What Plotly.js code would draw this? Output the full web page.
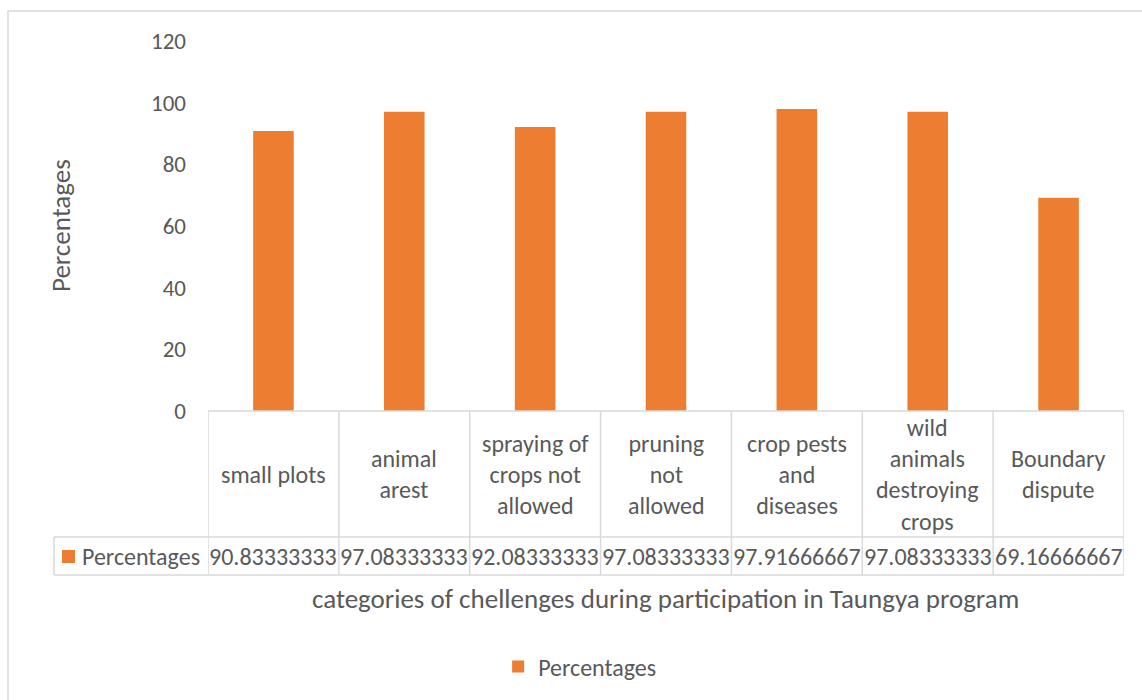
<!DOCTYPE html>
<html>
<head>
<meta charset="utf-8">
<script src="https://cdn.plot.ly/plotly-3.0.1.min.js"></script>
<style>html,body{margin:0;padding:0;background:#fff;}#chart{width:1142px;height:700px;}</style>
</head>
<body>
<div id="chart"></div>
<script>
// ---- data ----
const categories = ["small plots", "animal<br>arest", "spraying of<br>crops not<br>allowed", "pruning<br>not<br>allowed", "crop pests<br>and<br>diseases", "wild<br>animals<br>destroying<br>crops", "Boundary<br>dispute"];
const percentages = [90.83333333, 97.08333333, 92.08333333, 97.08333333, 97.91666667, 97.08333333, 69.16666667];
const seriesName = "Percentages";
const yTicks = [0, 20, 40, 60, 80, 100, 120];
const xTitle = "categories of chellenges during participation in Taungya program";
const yTitle = "Percentages";

// ---- style ----
const FONT = "Carlito, 'Open Sans', sans-serif";
const TXT = "#595959";
const GRID = "#d9d9d9";
const BAR = "#ED7D31";
const W = 1142, H = 700;
const M = {l: 208, r: 18, t: 41, b: 289};
const PW = W - M.l - M.r, PH = H - M.t - M.b;
const py = pix => -(pix - (H - M.b)) / PH;      // pixel y -> paper y
const px = pix => (pix - M.l) / PW;              // pixel x -> paper x

const n = categories.length;
const rowTop = 411, rowMid = 537, rowBot = 575, labelLeft = 54;

const shapes = [];
const lineStyle = {color: GRID, width: 1.5};
// outer frame
shapes.push({type: 'rect', xref: 'paper', yref: 'paper', x0: px(8), x1: px(1150), y0: py(710), y1: py(11), line: {color: GRID, width: 1.5}, layer: 'below'});
// table horizontal lines
shapes.push({type: 'line', xref: 'paper', yref: 'paper', x0: 0, x1: 1, y0: py(rowTop), y1: py(rowTop), line: lineStyle});
shapes.push({type: 'line', xref: 'paper', yref: 'paper', x0: px(labelLeft), x1: 1, y0: py(rowMid), y1: py(rowMid), line: lineStyle});
shapes.push({type: 'line', xref: 'paper', yref: 'paper', x0: px(labelLeft), x1: 1, y0: py(rowBot), y1: py(rowBot), line: lineStyle});
shapes.push({type: 'line', xref: 'paper', yref: 'paper', x0: px(labelLeft), x1: px(labelLeft), y0: py(rowMid), y1: py(rowBot), line: lineStyle});
// table vertical lines at category boundaries
for (let i = 0; i <= n; i++) {
  shapes.push({type: 'line', xref: 'x', yref: 'paper', x0: i - 0.5, x1: i - 0.5, y0: py(rowTop), y1: py(rowBot), line: lineStyle});
}
// legend key in table
shapes.push({type: 'rect', xref: 'paper', yref: 'paper', x0: px(62), x1: px(75), y0: py(563), y1: py(550), fillcolor: BAR, line: {width: 0}});

const annotations = [];
categories.forEach((c, i) => {
  annotations.push({xref: 'x', yref: 'paper', x: i, y: py((rowTop + rowMid) / 2), text: c, showarrow: false,
    xanchor: 'center', yanchor: 'middle', align: 'center', font: {family: FONT, size: 24, color: TXT}});
  annotations.push({xref: 'x', yref: 'paper', x: i, y: py((rowMid + rowBot) / 2), text: percentages[i].toPrecision(10), showarrow: false,
    xanchor: 'center', yanchor: 'middle', font: {family: FONT, size: 24, color: TXT}});
});
annotations.push({xref: 'paper', yref: 'paper', x: px(80), y: py((rowMid + rowBot) / 2), text: seriesName, showarrow: false,
  xanchor: 'left', yanchor: 'middle', font: {family: FONT, size: 24, color: TXT}});
annotations.push({xref: 'paper', yref: 'paper', x: px(665), y: py(598), text: xTitle, showarrow: false,
  xanchor: 'center', yanchor: 'middle', font: {family: FONT, size: 27, color: TXT}});
annotations.push({xref: 'paper', yref: 'paper', x: px(60), y: py(226), text: yTitle, showarrow: false, textangle: -90,
  xanchor: 'center', yanchor: 'middle', font: {family: FONT, size: 27, color: TXT}});

const trace = {
  type: 'bar',
  x: categories.map((c, i) => i),
  y: percentages,
  name: seriesName,
  marker: {color: BAR},
  width: 0.31,
  hoverinfo: 'skip'
};

const layout = {
  width: W, height: H,
  margin: M,
  paper_bgcolor: '#fff', plot_bgcolor: '#fff',
  font: {family: FONT, color: TXT},
  showlegend: true,
  legend: {orientation: 'h', xref: 'container', yref: 'container', x: 0.508, y: 1 - 667 / H, xanchor: 'center', yanchor: 'middle',
    font: {family: FONT, size: 24, color: TXT}, itemwidth: 30},
  xaxis: {range: [-0.5, n - 0.5], showticklabels: false, showgrid: false, zeroline: false, showline: false, ticks: '', fixedrange: true},
  yaxis: {range: [0, 120], tickvals: yTicks, ticktext: yTicks.map(String), showgrid: false, zeroline: false, showline: false, ticks: '',
    ticklabelstandoff: 21, tickfont: {family: FONT, size: 23, color: TXT}, fixedrange: true},
  shapes: shapes,
  annotations: annotations
};

Plotly.newPlot('chart', [trace], layout, {displayModeBar: false, staticPlot: true});
</script>
</body>
</html>
